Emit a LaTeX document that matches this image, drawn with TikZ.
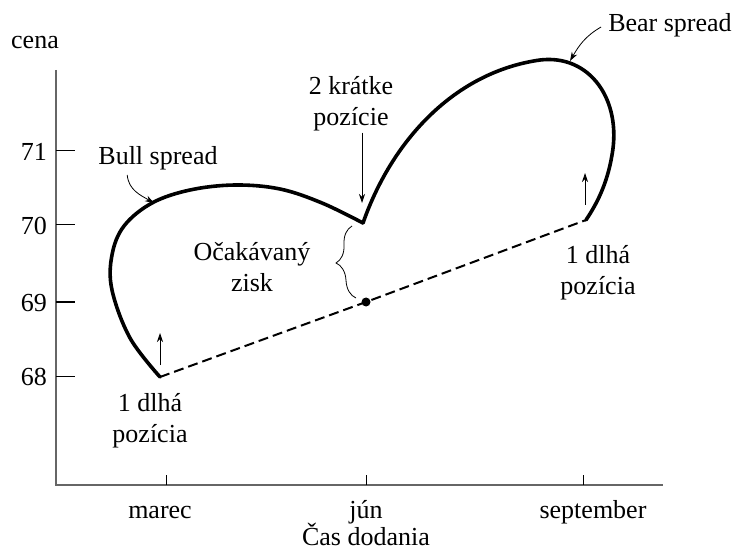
\documentclass[tikz,border=0pt]{standalone}
\usepackage{fontspec}
\setmainfont{Liberation Serif}
\usetikzlibrary{arrows.meta, positioning, decorations.pathreplacing}

\begin{document}
\begin{tikzpicture}[
  x=1pt, y=-1pt,
  node distance=4pt and 4pt,
  lbl/.style={font=\fontsize{26}{31}\selectfont, align=center, inner sep=1pt},
  axis/.style={draw=black!60, line width=1.5pt},
  tick/.style={line width=1pt},
  spread/.style={line width=3.6pt, line join=round, line cap=round},
  hedge/.style={dash pattern=on 10pt off 5pt, line width=2pt},
  ptr/.style={-{Stealth[length=9pt, width=6pt]}, line width=0.8pt}
]
\useasboundingbox (0,0) rectangle (736,553);

% Osi
\coordinate (org) at (56,485);
\coordinate (ytop) at (56,70);
\coordinate (xend) at (663,485);
\draw[axis] (ytop) -- (org) -- (xend);
\node[lbl] (cena) at (35,43) {cena};

% Ceny na osi y
\foreach \v/\y in {71/151, 70/225, 69/302, 68/376} {
  \draw[tick] (56,\y) -- (75,\y);
  \node[lbl, anchor=east] at (48,\y+1) {\v};
}

% Mesiace na osi x
\foreach \x in {166, 366, 583} {
  \draw[tick] (\x,485) -- (\x,475);
}
\node[lbl] (marec) at (160,512) {marec};
\node[lbl] (jun) at (366,512) {jún};
\node[lbl] (sept) at (593,512) {september};
\node[lbl] (cas) at (366,534) {Čas dodania};

% Body obchodov
\coordinate (mar) at (160,377);
\coordinate (peak) at (363,223);
\coordinate (sep) at (586,220);
\coordinate (mid) at (366,302);

% Bull spread a Bear spread
\draw[spread] plot[smooth, tension=0.6] coordinates {
  (mar) (130,338) (112,290) (112,255) (124,226) (152,203) (190,190)
  (235,185) (280,189) (322,203) (peak)};
\draw[spread] (peak) .. controls (392,140) and (455,72) .. (540,60)
  .. controls (590,54) and (622,100) .. (612,155)
  .. controls (607,185) and (596,205) .. (sep);

% Dlhe pozicie (prerusovana ciara)
\draw[hedge] (mar) -- (mid) -- (sep);
\fill (mid) circle (4.5pt);

% Sipky pozicii
\coordinate (a1) at (160,365);
\coordinate (a1t) at (160,333);
\draw[ptr] (a1) -- (a1t);
\coordinate (a2) at (585,205);
\coordinate (a2t) at (585,173);
\draw[ptr] (a2) -- (a2t);

% Popisy
\node[lbl] (bull) at (158,158) {Bull spread};
\coordinate (bullpt) at (154,203);
\draw[ptr] (bull.south west) ++(30,4) coordinate (bulls) to[out=-85, in=150] (bullpt);

\node[lbl] (bear) at (670,25) {Bear spread};
\coordinate (bearpt) at (570,61);
\draw[ptr] (bear.west) ++(-6,2) coordinate (bears) to[out=210, in=60] (bearpt);

\node[lbl] (kratke) at (351,104) {2 krátke\\pozície};
\coordinate (krpt) at (362,203);
\draw[ptr] (kratke.south -| krpt) -- (krpt);

\node[lbl] (longl) at (150,421) {1 dlhá\\pozícia};
\node[lbl] (longr) at (598,273) {1 dlhá\\pozícia};

% Ocakavany zisk
\coordinate (brtop) at (352,226);
\coordinate (brbot) at (356,298);
\draw[line width=0.8pt, decorate, decoration={brace, amplitude=18pt}] (brbot) -- (brtop);
\node[lbl] (zisk) at (252,267) {Očakávaný\\zisk};

\end{tikzpicture}
\end{document}
